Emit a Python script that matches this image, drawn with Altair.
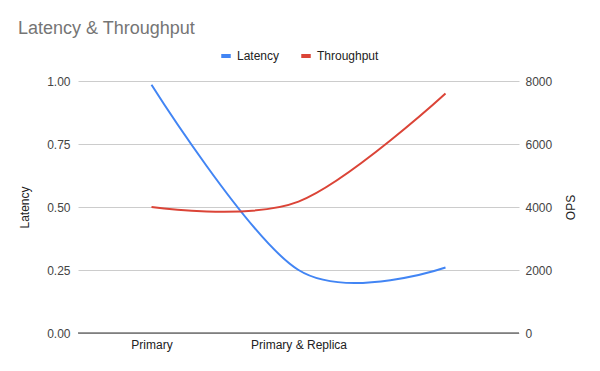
import altair as alt
import pandas as pd

categories = ["Primary", "Primary & Replica", " "]
latency = [0.985, 0.25, 0.26]
throughput = [4000, 4170, 7600]

df = pd.DataFrame({"Config": categories, "Latency": latency, "Throughput": throughput})
long = df.melt("Config", var_name="Series", value_name="Value")

FONT = "Liberation Sans"

color = alt.Color(
    "Series:N",
    scale=alt.Scale(domain=["Latency", "Throughput"], range=["#4285F4", "#DB4437"]),
    legend=alt.Legend(
        title=None, orient="none", legendX=141, legendY=-32, direction="horizontal",
        symbolType="stroke", symbolStrokeWidth=4, symbolSize=90,
        labelFontSize=12, labelFont=FONT, labelColor="#222222", columnPadding=13,
    ),
)

x = alt.X(
    "Config:N", sort=categories, title=None,
    scale=alt.Scale(padding=0.5),
    axis=alt.Axis(labelAngle=0, ticks=False, domain=False, grid=False,
                  labelFontSize=12, labelFont=FONT, labelColor="#222222", labelPadding=6),
)

base = alt.Chart(long)

lat = base.transform_filter(alt.datum.Series == "Latency").mark_line(
    interpolate="cardinal", strokeWidth=2
).encode(
    x=x,
    y=alt.Y("Value:Q", title="Latency", scale=alt.Scale(domain=[0, 1], nice=False),
            axis=alt.Axis(orient="left", values=[0, 0.25, 0.5, 0.75, 1], format=".2f",
                          grid=True, gridColor="#cccccc", domain=False, ticks=False,
                          labelPadding=8, labelFontSize=12, labelFont=FONT, labelColor="#444444",
                          titleFontSize=12, titleFont=FONT, titleFontWeight="normal",
                          titleColor="#222222", titlePadding=15)),
    color=color,
)

thr = base.transform_filter(alt.datum.Series == "Throughput").mark_line(
    interpolate="cardinal", strokeWidth=2
).encode(
    x=x,
    y=alt.Y("Value:Q", title="OPS", scale=alt.Scale(domain=[0, 8000], nice=False),
            axis=alt.Axis(orient="right", values=[0, 2000, 4000, 6000, 8000], format="d",
                          grid=False, domain=False, ticks=False,
                          labelPadding=6, labelFontSize=12, labelFont=FONT, labelColor="#444444",
                          titleFontSize=12, titleFont=FONT, titleFontWeight="normal",
                          titleColor="#222222", titlePadding=14, titleAngle=270,
                          titleBaseline="top")),
    color=color,
)

baseline = alt.Chart(pd.DataFrame({"y": [0]})).mark_rule(color="#333333", strokeWidth=1).encode(
    y=alt.Y("y:Q", scale=alt.Scale(domain=[0, 1]), axis=None)
)

chart = alt.layer(lat, thr, baseline).resolve_scale(y="independent").properties(
    width=441, height=252,
    autosize=alt.AutoSizeParams(type="none"),
    padding={"left": 70, "top": 73, "right": 68, "bottom": 26},
    title=alt.TitleParams(
        "Latency & Throughput", anchor="start", frame="group", dx=-60,
        fontSize=18, font=FONT, fontWeight="normal", color="#757575", offset=11,
    ),
).configure_view(stroke=None)

chart.save("out.html", embed_options={"renderer": "svg", "actions": False})
